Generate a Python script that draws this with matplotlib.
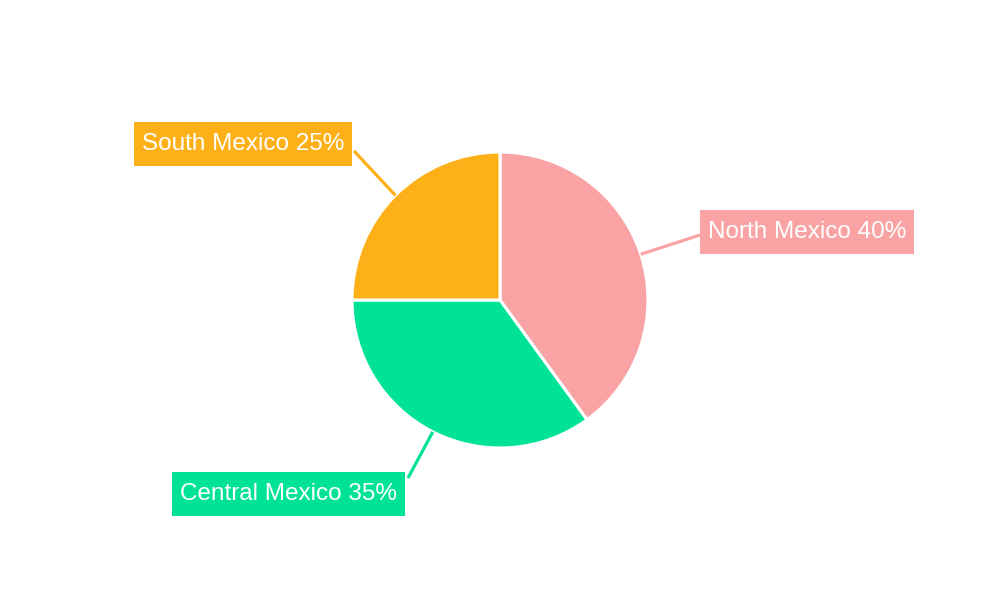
import numpy as np
import matplotlib.pyplot as plt
from matplotlib.patches import Rectangle

regions = ["North Mexico", "Central Mexico", "South Mexico"]
shares = [40, 35, 25]
colors = ["#F9A3A4", "#00E396", "#FEB019"]

# label box layout in pixel coords (text left x, text centre y, leader end x, leader end y)
label_pos = {
    "North Mexico": (708, 232, 700, 235),
    "Central Mexico": (180, 494, 408, 478),
    "South Mexico": (142, 144, 354, 151),
}

plt.rcParams['font.family'] = ['Liberation Sans', 'DejaVu Sans']

fig = plt.figure(figsize=(10, 6), dpi=100)
ax = fig.add_axes([0, 0, 1, 1])

cx, cy, r = 500, 300, 148
wedges, _ = ax.pie(shares, colors=colors, startangle=90, counterclock=False,
                   center=(cx, cy), radius=r,
                   wedgeprops=dict(edgecolor='white', linewidth=2.2))

ax.set_xlim(0, 1000)
ax.set_ylim(0, 600)
ax.set_aspect('equal')
ax.axis('off')

texts = []
for w, name, val, col in zip(wedges, regions, shares, colors):
    mid = np.deg2rad((w.theta1 + w.theta2) / 2)
    ax_x = cx + r * np.cos(mid)
    ax_y = cy + r * np.sin(mid)
    tx, ty, lx, ly = label_pos[name]
    ax.plot([ax_x, lx], [ax_y, 600 - ly], color=col, lw=2.3, solid_capstyle='butt', zorder=1)
    t = ax.text(tx, 600 - ty, f"{name} {val}%", color='white', fontsize=17.5,
                ha='left', va='center', zorder=4)
    texts.append((t, col))

# boxes sized from the rendered text
fig.canvas.draw()
rend = fig.canvas.get_renderer()
for t, col in texts:
    bb = t.get_window_extent(rend)
    x0, x1 = bb.x0 - 8, bb.x1 + 8
    ymid = (bb.y0 + bb.y1) / 2
    ax.add_patch(Rectangle((x0, ymid - 22), x1 - x0, 44, fc=col, ec='none', zorder=3))

fig.savefig("out.png", dpi=100, facecolor='white')
